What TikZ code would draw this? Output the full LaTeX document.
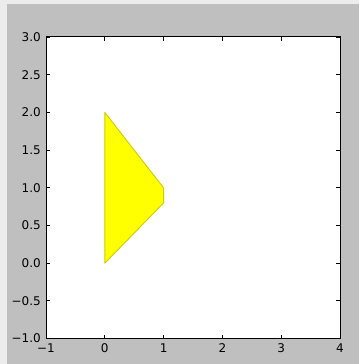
\documentclass[tikz,border=0pt]{standalone}
\usepackage{fontspec}
\setmainfont{DejaVu Sans}
\definecolor{figbg}{RGB}{191,191,191}
\definecolor{checker}{RGB}{236,236,236}
\definecolor{polyedge}{RGB}{205,205,0}
\definecolor{polyfill}{RGB}{255,255,0}
\begin{document}
\begin{tikzpicture}[x=1pt,y=1pt,
  ticklabel/.style={font=\fontsize{12}{14}\selectfont, text=black, inner sep=0pt},
  tickmark/.style={draw=black, line width=0.8pt},
  frame/.style={draw=black, line width=1pt}]
\useasboundingbox (0,0) rectangle (359,364);
\fill[checker] (0,0) rectangle (359,364);
\fill[figbg] (7,0) rectangle (359,360);
\begin{scope}[shift={(104.8pt,100.8pt)}, x=58.8pt, y=75.4pt]
  \fill[white] (-1,-1) rectangle (4,3);
  \filldraw[fill=polyfill, draw=polyedge, line width=0.9pt, line join=round]
    (0,0) -- (0,2) -- (1,1) -- (1,0.8) -- cycle;
  \foreach \x in {-1,0,1,2,3,4} {
    \draw[tickmark] (\x,-1) -- ++(0pt,4pt);
    \draw[tickmark] (\x,3) -- ++(0pt,-4pt);
  }
  \foreach \y in {-1,-0.5,0,0.5,1,1.5,2,2.5,3} {
    \draw[tickmark] (-1,\y) -- ++(4pt,0pt);
    \draw[tickmark] (4,\y) -- ++(-4pt,0pt);
  }
  \draw[frame] (-1,-1) rectangle (4,3);
  \foreach \x/\t [count=\i] in {-1/{−1},0/0,1/1,2/2,3/3,4/4} {
    \node[ticklabel, anchor=north] (xl\i) at ([yshift=-4.5pt]\x,-1) {\t};
  }
  \foreach \y/\t [count=\i] in {-1/{−1.0},-0.5/{−0.5},0/{0.0},0.5/{0.5},1/{1.0},1.5/{1.5},2/{2.0},2.5/{2.5},3/{3.0}} {
    \node[ticklabel, anchor=east] (yl\i) at ([xshift=-5pt]-1,\y) {\t};
  }
\end{scope}
\end{tikzpicture}
\end{document}
